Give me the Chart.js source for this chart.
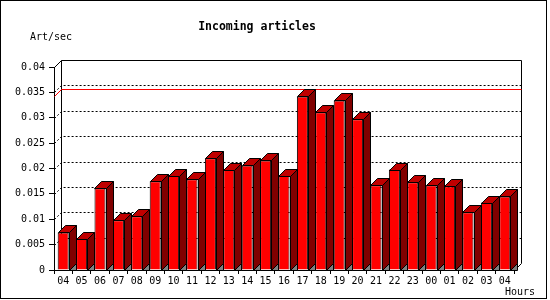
<!DOCTYPE html>
<html>
<head>
<meta charset="utf-8">
<script src="https://cdn.jsdelivr.net/npm/chart.js@4"></script>
<style>
  html, body { margin: 0; padding: 0; background: #fff; }
  canvas { display: block; }
</style>
</head>
<body>
<canvas id="inChart" width="550" height="300"></canvas>
<script>
const hours = ['04','05','06','07','08','09','10','11','12','13','14','15','16',
               '17','18','19','20','21','22','23','00','01','02','03','04'];
const artPerSec = [0.0074, 0.0062, 0.0161, 0.0098, 0.0106, 0.0175, 0.0185, 0.0179,
                   0.0220, 0.0198, 0.0206, 0.0216, 0.0185, 0.0342, 0.0311, 0.0334,
                   0.0297, 0.0167, 0.0198, 0.0173, 0.0167, 0.0165, 0.0114, 0.0133, 0.0145];
const yMax = 0.04;
const yStep = 0.005;

const depth = 7;
const mono = 'DejaVu Sans Mono';

function poly(ctx, pts, fill) {
  ctx.beginPath();
  ctx.moveTo(pts[0][0], pts[0][1]);
  for (let i = 1; i < pts.length; i++) ctx.lineTo(pts[i][0], pts[i][1]);
  ctx.closePath();
  ctx.fillStyle = fill;
  ctx.fill();
  ctx.stroke();
}

// back wall, dotted grid and the max line, drawn behind the bars
const wall3d = {
  id: 'wall3d',
  beforeDatasetsDraw(chart) {
    const ctx = chart.ctx, a = chart.chartArea, y = chart.scales.y;
    const L = Math.round(a.left) + 0.5, R = Math.round(a.right) + 0.5;
    const T = Math.round(a.top) + 0.5, B = Math.round(a.bottom) + 0.5;
    ctx.save();
    ctx.lineWidth = 1;
    ctx.strokeStyle = '#000';
    ctx.beginPath();
    ctx.moveTo(L, T);
    ctx.lineTo(L + depth, T - depth);
    ctx.lineTo(R + depth, T - depth);
    ctx.lineTo(R + depth, B - depth);
    ctx.lineTo(R, B);
    ctx.moveTo(L + depth, T - depth);
    ctx.lineTo(L + depth, B - depth);
    ctx.stroke();

    ctx.setLineDash([2, 2]);
    y.ticks.forEach(t => {
      if (t.value <= 0 || t.value >= yMax) return;
      const py = Math.round(y.getPixelForValue(t.value)) + 0.5;
      ctx.beginPath();
      ctx.moveTo(L, py);
      ctx.lineTo(L + depth, py - depth);
      ctx.lineTo(R + depth, py - depth);
      ctx.stroke();
    });
    ctx.setLineDash([]);

    const top = Math.max(...artPerSec);
    const my = Math.round(y.getPixelForValue(top)) + 0.5;
    ctx.strokeStyle = '#ff0000';
    ctx.beginPath();
    ctx.moveTo(L, my);
    ctx.lineTo(L + depth, my - depth);
    ctx.lineTo(R + depth, my - depth);
    ctx.stroke();
    ctx.restore();
  },
  afterDatasetsDraw(chart) {
    const ctx = chart.ctx;
    const meta = chart.getDatasetMeta(0);
    ctx.save();
    ctx.lineWidth = 1;
    ctx.strokeStyle = '#000';
    meta.data.forEach(bar => {
      const p = bar.getProps(['x', 'y', 'base', 'width'], true);
      const l = Math.round(p.x - p.width / 2) + 0.5;
      const r = Math.round(p.x + p.width / 2) + 0.5;
      const t = Math.round(p.y) + 0.5;
      const b = Math.round(p.base) + 0.5;
      poly(ctx, [[l, t], [l + depth, t - depth], [r + depth, t - depth], [r, t]], '#c00000');
      poly(ctx, [[r, t], [r + depth, t - depth], [r + depth, b - depth], [r, b]], '#800000');
      poly(ctx, [[r, b], [r + depth, b - depth], [r + depth, b]], '#808080');
    });
    ctx.restore();
  },
  afterDraw(chart) {
    const ctx = chart.ctx;
    ctx.save();
    ctx.fillStyle = '#000';
    ctx.font = '10px "' + mono + '"';
    ctx.textBaseline = 'middle';
    ctx.textAlign = 'left';
    ctx.fillText('Art/sec', 30, 37);
    ctx.fillText('Hours', 505, 292);
    ctx.strokeStyle = '#000';
    ctx.lineWidth = 1;
    ctx.strokeRect(0.5, 0.5, 546, 298);
    ctx.restore();
  }
};

new Chart(document.getElementById('inChart'), {
  type: 'bar',
  data: {
    labels: hours,
    datasets: [{
      label: 'Art/sec',
      data: artPerSec,
      backgroundColor: '#ff0000',
      borderColor: '#000',
      borderWidth: 1,
      categoryPercentage: 1,
      barPercentage: 0.6
    }]
  },
  options: {
    responsive: false,
    animation: false,
    layout: { padding: { top: 0, left: 0, right: 36, bottom: 0 } },
    plugins: {
      legend: { display: false },
      tooltip: { enabled: false },
      title: {
        display: true,
        text: 'Incoming articles',
        color: '#000',
        font: { family: mono, size: 11.5, weight: 'bold', lineHeight: 1.2 },
        padding: { top: 20, bottom: 33.2 }
      }
    },
    scales: {
      x: {
        afterFit(scale) { scale.height = 30; },
        border: { display: true, color: '#000' },
        grid: { drawOnChartArea: false, color: '#000', tickLength: 4 },
        ticks: { color: '#000', font: { family: mono, size: 10 }, padding: 1,
                 maxRotation: 0, autoSkip: false }
      },
      y: {
        min: 0,
        max: yMax,
        afterFit(scale) { scale.width = 54; },
        border: { display: true, color: '#000' },
        grid: { drawOnChartArea: false, color: '#000', tickLength: 5 },
        ticks: {
          stepSize: yStep,
          color: '#000',
          font: { family: mono, size: 10 },
          padding: 4,
          callback: v => String(+v.toFixed(3))
        }
      }
    }
  },
  plugins: [wall3d]
});
</script>
</body>
</html>
